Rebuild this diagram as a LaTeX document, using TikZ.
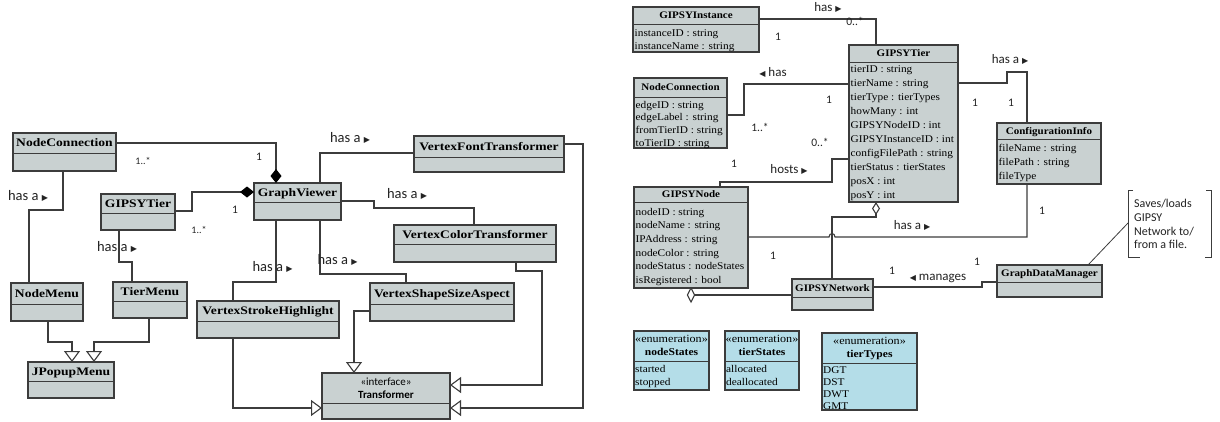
\documentclass[tikz,border=0pt]{standalone}
\usepackage{fontspec}
\setmainfont{Liberation Serif}
\newfontfamily\clsfont[FakeStretch=1.18]{Liberation Serif Bold}
\newfontfamily\rnfont[FakeStretch=1.1]{Liberation Serif Bold}
\newfontfamily\tmsfont[FakeStretch=1.1]{Liberation Serif}
\newfontfamily\calfont{Carlito}
\newfontfamily\calbfont{Carlito Bold}
\newfontfamily\symfont{DejaVu Sans}
\usetikzlibrary{arrows.meta}
\definecolor{clsfill}{RGB}{201,209,209}
\definecolor{enumfill}{RGB}{180,221,232}
\definecolor{edge}{RGB}{60,60,60}
\definecolor{lbl}{RGB}{35,35,35}
\newcommand\rtri{{\symfont\fontsize{8}{8}\selectfont ▶}}
\newcommand\ltri{{\symfont\fontsize{8}{8}\selectfont ◀}}
\tikzset{
  box/.style={draw=edge, line width=1.2pt, inner sep=0pt, outer sep=0pt},
  divl/.style={draw=edge, line width=1pt},
  conn/.style={draw=edge, line width=1.1pt},
  lname/.style={font=\clsfont\fontsize{11.5}{12}\selectfont, inner sep=0pt, text height=7.6pt, text depth=0pt},
  rname/.style={font=\rnfont\fontsize{10}{11}\selectfont, inner sep=0pt, text height=6.6pt, text depth=0pt},
  ename/.style={font=\rnfont\fontsize{10.5}{11}\selectfont, inner sep=0pt, text height=7pt, text depth=0pt},
  ster/.style={font=\tmsfont\fontsize{11}{12}\selectfont, inner sep=0pt, text height=7pt, text depth=0pt},
  attr/.style={font=\tmsfont\fontsize{10.3}{11}\selectfont, inner sep=0pt, text height=7pt, text depth=0pt, anchor=west},
  lab/.style={font=\calfont\fontsize{13}{14}\selectfont, text=lbl, inner sep=0pt, text height=8.5pt, text depth=0pt},
  labL/.style={font=\calfont\fontsize{14.5}{15}\selectfont, text=lbl, inner sep=0pt, text height=9.5pt, text depth=0pt},
  mult/.style={font=\calfont\fontsize{11.5}{12}\selectfont, text=lbl, inner sep=0pt, text height=7.2pt, text depth=0pt},
  mults/.style={font=\calfont\fontsize{10}{11}\selectfont, text=lbl, inner sep=0pt, text height=6.3pt, text depth=0pt},
  trs/.style={font=\calfont\fontsize{11}{12}\selectfont, inner sep=0pt, text height=7pt, text depth=0pt},
  trn/.style={font=\calbfont\fontsize{11}{12}\selectfont, inner sep=0pt, text height=7pt, text depth=0pt},
  notet/.style={font=\calfont\fontsize{12}{13}\selectfont, text=lbl, inner sep=0pt, text height=8pt, text depth=0pt, anchor=west},
  comp/.style={-{Diamond[length=14pt,width=11pt,fill=black,color=black]}},
  aggr/.style={-{Diamond[open,length=13pt,width=8pt,fill=white]}},
  gen/.style={-{Triangle[open,length=11pt,width=16pt,fill=white]}},
  notel/.style={draw=edge, line width=0.8pt},
}
\newcommand\cbox[7]{%
  \node[box, fill=#7, minimum width={(#4-#2)*1pt}, minimum height={(#5-#3)*1pt}] (#1) at ({(#2+#4)/2},{(#3+#5)/2}) {};
  \draw[divl] (#2,#6) -- (#4,#6);}
\begin{document}
\begin{tikzpicture}[x=1pt,y=-1pt]
\fill[white] (0,0) rectangle (1220,421);
\useasboundingbox (0,0) rectangle (1220,421);

% ================= LEFT DIAGRAM =================
\cbox{ncL}{13}{133}{116}{171}{153}{clsfill}
\cbox{gtL}{101}{194}{175}{230}{213}{clsfill}
\cbox{gv}{254}{183}{341}{220}{202}{clsfill}
\cbox{vft}{414}{136}{564}{172}{157}{clsfill}
\cbox{vct}{394}{225}{556}{262}{244}{clsfill}
\cbox{nm}{11}{283}{83}{321}{304}{clsfill}
\cbox{tm}{113}{282}{187}{318}{301}{clsfill}
\cbox{jp}{28}{362}{114}{398}{381}{clsfill}
\cbox{vsh}{197}{301}{339}{338}{321}{clsfill}
\cbox{vssa}{370}{283}{514}{321}{304}{clsfill}
\cbox{tr}{322}{373}{450}{419}{403}{clsfill}

\node[lname] (ncL-n) at (64.5,143) {NodeConnection};
\node[lname] (gtL-n) at (138,203.5) {GIPSYTier};
\node[lname] (gv-n) at (297.5,192.5) {GraphViewer};
\node[lname] (vft-n) at (489,146.5) {VertexFontTransformer};
\node[lname] (vct-n) at (475,234.5) {VertexColorTransformer};
\node[lname] (nm-n) at (47,293.5) {NodeMenu};
\node[lname] (tm-n) at (150,291.5) {TierMenu};
\node[lname] (jp-n) at (71,371.5) {JPopupMenu};
\node[lname] (vsh-n) at (268,311) {VertexStrokeHighlight};
\node[lname] (vssa-n) at (442,293.5) {VertexShapeSizeAspect};
\node[trs] (tr-s) at (386,382) {«interface»};
\node[trn] (tr-n) at (386,394.5) {Transformer};

% connectors
\draw[conn,comp] (ncL.east |- 0,143) -| (gv.north -| 276,0);
\draw[conn,comp] (gtL.east |- 0,211) -- (192,211) |- (gv.west |- 0,192);
\draw[conn] (ncL.south -| 63,0) |- (29,210) -- (nm.north -| 29,0);
\draw[conn] (gtL.south -| 119,0) |- (132,262) -- (tm.north -| 132,0);
\draw[conn,gen] (nm.south -| 48,0) |- (72,342) -- (jp.north -| 72,0);
\draw[conn,gen] (tm.south -| 149,0) |- (94,342) -- (jp.north -| 94,0);
\draw[conn] (vft.west |- 0,153) -| (gv.north -| 320,0);
\draw[conn] (gv.east |- 0,201) -- (374,201) |- (474,208) -- (vct.north -| 474,0);
\draw[conn] (gv.south -| 276,0) |- (233,282) -- (vsh.north -| 233,0);
\draw[conn] (gv.south -| 320,0) |- (406,274) -- (vssa.north -| 406,0);
\draw[conn,gen] (vssa.west |- 0,311) -| (tr.north -| 354,0);
\draw[conn,gen] (vsh.south -| 233,0) |- (tr.west |- 0,408);
\draw[conn,gen] (vct.south -| 516,0) |- (542,271) |- (tr.east |- 0,385);
\draw[conn,gen] (vft.east |- 0,144) -| (583,408) -- (tr.east |- 0,408);

% labels
\node[mult] (m1) at (259,157) {1};
\node[mults] (m2) at (143,161) {1..*};
\node[mult] (m3) at (235,210) {1};
\node[mults] (m4) at (199,230) {1..*};
\node[labL] (h1) at (28,196) {has a \rtri};
\node[labL] (h2) at (117,247) {has a \rtri};
\node[labL] (h3) at (350,138) {has a \rtri};
\node[labL] (h4) at (407,194) {has a \rtri};
\node[labL] (h5) at (272.5,267) {has a \rtri};
\node[labL] (h6) at (337.5,260) {has a \rtri};

% ================= RIGHT DIAGRAM =================
\cbox{gi}{633}{7}{759}{52}{24}{clsfill}
\cbox{ncR}{634}{78}{727}{148}{97}{clsfill}
\cbox{gtR}{849}{45}{958}{202}{62}{clsfill}
\cbox{ci}{997}{123}{1101}{184}{139}{clsfill}
\cbox{gn}{634}{187}{748}{288}{202}{clsfill}
\cbox{gnet}{792}{279}{873}{310}{297}{clsfill}
\cbox{gdm}{997}{265}{1102}{297}{282}{clsfill}
\cbox{ens}{634}{331}{709}{390}{361}{enumfill}
\cbox{ets}{725}{331}{799}{390}{361}{enumfill}
\cbox{ett}{822}{333}{917}{410}{363}{enumfill}

\node[rname] (gi-n) at (696,15.5) {GIPSYInstance};
\node[rname] (ncR-n) at (680.5,87.5) {NodeConnection};
\node[rname] (gtR-n) at (903.5,53.5) {GIPSYTier};
\node[rname] (ci-n) at (1049,131) {ConfigurationInfo};
\node[rname] (gn-n) at (691,194.5) {GIPSYNode};
\node[rname] (gnet-n) at (832.5,288) {GIPSYNetwork};
\node[rname] (gdm-n) at (1049.5,273.5) {GraphDataManager};

\foreach \t [count=\i] in {instanceID : string, instanceName : string}
  \node[attr] (gia\i) at (634.5,{33+13*(\i-1)}) {\t};
\foreach \t [count=\i] in {edgeID : string, edgeLabel : string, fromTierID : string, toTierID : string}
  \node[attr] (nca\i) at (635.5,{104.5+12.7*(\i-1)}) {\t};
\foreach \t [count=\i] in {tierID : string, tierName : string, tierType : tierTypes, howMany : int, GIPSYNodeID : int, GIPSYInstanceID : int, configFilePath : string, tierStatus : tierStates, posX : int, posY : int}
  \node[attr] (gta\i) at (850.5,{69+14*(\i-1)}) {\t};
\foreach \t [count=\i] in {fileName : string, filePath : string, fileType}
  \node[attr] (cia\i) at (998.5,{148+14*(\i-1)}) {\t};
\foreach \t [count=\i] in {nodeID : string, nodeName : string, IPAddress : string, nodeColor : string, nodeStatus : nodeStates, isRegistered : bool}
  \node[attr] (gna\i) at (635.5,{211.5+13.7*(\i-1)}) {\t};

% enumerations
\node[ster] (ens-s) at (671.5,338.5) {«enumeration»};
\node[ename] (ens-n) at (671.5,352) {nodeStates};
\node[ster] (ets-s) at (762,338.5) {«enumeration»};
\node[ename] (ets-n) at (762,352) {tierStates};
\node[ster] (ett-s) at (869.5,341) {«enumeration»};
\node[ename] (ett-n) at (869.5,354) {tierTypes};
\foreach \t [count=\i] in {started, stopped}
  \node[attr] (ensa\i) at (635,{369+13*(\i-1)}) {\t};
\foreach \t [count=\i] in {allocated, deallocated}
  \node[attr] (etsa\i) at (726,{369+13*(\i-1)}) {\t};
\foreach \t [count=\i] in {DGT, DST, DWT, GMT}
  \node[attr] (etta\i) at (823,{369.5+12*(\i-1)}) {\t};

% connectors
\draw[conn] (gi.east |- 0,19) -| (gtR.north -| 876,0);
\draw[conn] (ncR.east |- 0,115) -- (744,115) |- (gtR.west |- 0,84);
\draw[conn] (gtR.west |- 0,159) -- (832,159) |- (720,182) -- (gn.north -| 720,0);
\draw[conn] (gtR.east |- 0,83) -- (1007,83) |- (1027,72) -- (ci.north -| 1027,0);
\draw[conn] (gn.east |- 0,237) -- (829,237) .. controls (829,232.5) and (835,232.5) .. (835,237) -- (1027,237) -- (ci.south -| 1027,0);
\draw[conn,aggr] (gnet.north -| 832,0) |- (876,217) -- (gtR.south -| 876,0);
\draw[conn] (gnet.west |- 0,295) -- (694.5,295);
\draw[conn,fill=white] (gn.south -| 691,0) -- ++(3.6,7) -- ++(-3.6,7) -- ++(-3.6,-7) -- cycle;
\draw[conn] (gnet.east |- 0,287) -- (982,287) |- (gdm.west |- 0,282);

% labels
\node[lab] (r1) at (828,7) {has \rtri};
\node[mult] (r2) at (855,22) {0..*};
\node[mult] (r3) at (778,37) {1};
\node[lab] (r4) at (773,72) {\ltri\ has};
\node[mult] (r5) at (829,100) {1};
\node[mult] (r6) at (760,128) {1..*};
\node[lab] (r7) at (789,169) {hosts \rtri};
\node[mult] (r8) at (734,164) {1};
\node[mult] (r9) at (820,143) {0..*};
\node[lab] (r10) at (1010,59) {has a \rtri};
\node[mult] (r11) at (975,103) {1};
\node[mult] (r12) at (1011,103) {1};
\node[lab] (r13) at (912,225) {has a \rtri};
\node[mult] (r14) at (773,256) {1};
\node[mult] (r15) at (1042,211) {1};
\node[lab] (r16) at (938,276) {\ltri\ manages};
\node[mult] (r17) at (892,271) {1};
\node[mult] (r18) at (977,262) {1};

% note
\node[notet] (nt1) at (1134,203) {Saves/loads};
\node[notet] (nt2) at (1134,217) {GIPSY};
\node[notet] (nt3) at (1134,231) {Network to/};
\node[notet] (nt4) at (1134,244) {from a file.};
\coordinate (notepin) at (1128,223);
\draw[notel] (1133,190) -- (1128,190) -- (1128,257) -- (1140,257);
\draw[notel] (1206,190) -- (1211,190) -- (1211,257) -- (1205,257);
\draw[notel] (gdm.north -| 1088,0) -- (notepin);
\end{tikzpicture}
\end{document}
